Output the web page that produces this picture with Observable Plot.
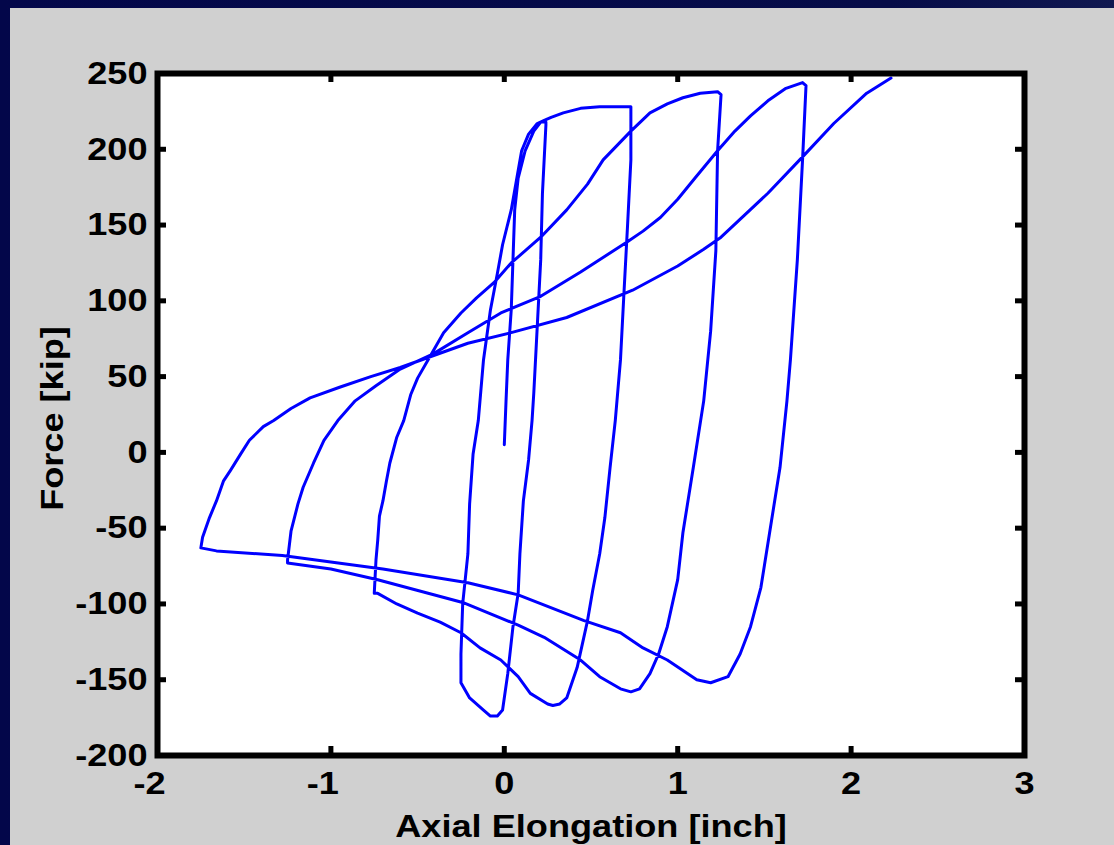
<!DOCTYPE html>
<html>
<head>
<meta charset="utf-8">
<script src="https://cdn.jsdelivr.net/npm/d3@7"></script>
<script src="https://cdn.jsdelivr.net/npm/@observablehq/plot@0.6"></script>
<style>
  html, body { margin: 0; padding: 0; }
  body {
    width: 1114px; height: 845px; overflow: hidden; position: relative;
    background: linear-gradient(90deg, #03074a 0%, #060c48 80%, #101850 100%);
  }
  #panel { position: absolute; left: 10px; top: 8px; width: 1104px; height: 837px; background: #d0d0d0; }
</style>
</head>
<body>
<div id="panel"></div>
<script>
// Cyclic axial test of a brace: each branch is [elongation (inch), force (kip)]
const initialLoading = [[0.00,5],[0.01,34],[0.02,61],[0.04,94],[0.05,127],[0.06,160],[0.08,181],[0.12,199],[0.17,212],[0.21,218],[0.24,218]];
const unloading1 = [[0.24,216],[0.22,171],[0.21,127],[0.19,83],[0.17,39],[0.16,21],[0.14,-5],[0.11,-32],[0.09,-67],[0.08,-93],[0.05,-115],[0.02,-146],[-0.01,-170],[-0.04,-174],[-0.08,-174],[-0.12,-170],[-0.20,-162],[-0.25,-152]];
const reloading2 = [[-0.25,-133],[-0.24,-100],[-0.21,-67],[-0.20,-34],[-0.18,-1],[-0.15,21],[-0.12,61],[-0.08,94],[-0.04,118],[-0.01,137],[0.04,160],[0.08,186],[0.10,199],[0.14,210],[0.19,217],[0.23,219],[0.27,221],[0.34,224],[0.44,227],[0.55,228],[0.73,228]];
const unloading2 = [[0.73,226],[0.73,193],[0.71,148],[0.69,105],[0.67,61],[0.64,21],[0.61,-10],[0.58,-43],[0.55,-67],[0.51,-91],[0.48,-111],[0.42,-142],[0.36,-162],[0.32,-166],[0.28,-167],[0.25,-166],[0.15,-159],[0.08,-148],[-0.02,-137],[-0.14,-129],[-0.25,-119],[-0.37,-112],[-0.50,-106],[-0.62,-100],[-0.73,-93],[-0.75,-93]];
const reloading3 = [[-0.74,-71],[-0.73,-58],[-0.72,-42],[-0.70,-32],[-0.68,-19],[-0.66,-7],[-0.62,10],[-0.58,21],[-0.54,38],[-0.50,49],[-0.44,61],[-0.35,79],[-0.25,92],[-0.16,102],[-0.06,112],[0.04,125],[0.21,142],[0.36,160],[0.48,177],[0.57,193],[0.73,212],[0.84,224],[0.94,230],[1.03,234],[1.13,237],[1.23,238]];
const unloading3 = [[1.25,236],[1.23,199],[1.22,133],[1.19,80],[1.15,34],[1.09,-10],[1.03,-53],[1.00,-84],[0.94,-115],[0.89,-133],[0.84,-146],[0.78,-156],[0.73,-158],[0.67,-156],[0.55,-148],[0.44,-137],[0.23,-122],[0.08,-114],[-0.24,-99],[-0.73,-84],[-1.00,-77],[-1.25,-73]];
const reloading4 = [[-1.25,-71],[-1.23,-52],[-1.19,-34],[-1.16,-23],[-1.10,-7],[-1.04,8],[-0.96,21],[-0.86,34],[-0.74,44],[-0.60,55],[-0.41,65],[-0.21,79],[-0.02,92],[0.21,103],[0.44,119],[0.71,139],[0.80,146],[0.90,155],[1.00,167],[1.10,181],[1.23,199],[1.33,212],[1.42,222],[1.52,232],[1.62,240],[1.72,244]];
const unloading4 = [[1.74,242],[1.72,193],[1.69,127],[1.65,61],[1.63,34],[1.59,-10],[1.53,-53],[1.48,-89],[1.42,-115],[1.36,-133],[1.29,-148],[1.19,-152],[1.11,-150],[0.94,-137],[0.80,-129],[0.67,-119],[0.46,-111],[0.08,-94],[-0.21,-86],[-0.70,-77],[-1.28,-68],[-1.66,-65],[-1.75,-63]];
const reloading5 = [[-1.74,-56],[-1.70,-43],[-1.66,-32],[-1.62,-19],[-1.58,-12],[-1.52,-1],[-1.47,8],[-1.39,17],[-1.33,21],[-1.23,29],[-1.12,36],[-0.95,43],[-0.77,50],[-0.60,56],[-0.21,72],[0.04,79],[0.36,89],[0.74,107],[1.00,123],[1.15,134],[1.25,142],[1.52,171],[1.72,195],[1.90,217],[2.09,237],[2.23,247]];

const xTicks = [-2, -1, 0, 1, 2, 3];
const yTicks = [-200, -150, -100, -50, 0, 50, 100, 150, 200, 250];
const xLabel = "Axial Elongation [inch]";
const yLabel = "Force [kip]";

// Full load history in test order
const history = [initialLoading, unloading1, reloading2, unloading2, reloading3,
                 unloading3, reloading4, unloading4, reloading5]
  .flat()
  .map(([elongation, force]) => ({elongation, force}));

const W = 1104, H = 837;
const mL = 147, mR = 90, mT = 65, mB = 90;
const innerW = W - mL - mR, innerH = H - mT - mB;
const tickLen = 9; // part of it is hidden under the frame stroke
const font = {fontSize: 32, fontWeight: "bold"};

const chart = Plot.plot({
  width: W, height: H,
  marginLeft: mL, marginRight: mR, marginTop: mT, marginBottom: mB,
  style: {
    background: "#d0d0d0", color: "black",
    fontFamily: "'Liberation Sans', Arial, Helvetica, sans-serif",
    fontWeight: "bold", fontSize: "32px"
  },
  x: {domain: [-2, 3]},
  y: {domain: [-200, 250]},
  marks: [
    Plot.frame({fill: "white"}),
    Plot.line(history, {x: "elongation", y: "force", stroke: "#0000ff", strokeWidth: 3, strokeLinejoin: "round"}),
    // inward ticks on all four sides
    Plot.tickX(xTicks, {x: d => d, insetTop: innerH - tickLen, stroke: "black", strokeWidth: 5}),
    Plot.tickX(xTicks, {x: d => d, insetBottom: innerH - tickLen, stroke: "black", strokeWidth: 5}),
    Plot.tickY(yTicks, {y: d => d, insetRight: innerW - tickLen, stroke: "black", strokeWidth: 5}),
    Plot.tickY(yTicks, {y: d => d, insetLeft: innerW - tickLen, stroke: "black", strokeWidth: 5}),
    Plot.frame({stroke: "black", strokeWidth: 6}),
    Plot.axisY(yTicks, {tickSize: 0, tickPadding: 10, label: null, tickFormat: d => String(d), ...font}),
    Plot.axisX(xTicks.filter(d => d >= 0), {tickSize: 0, tickPadding: 16, label: null, tickFormat: d => String(d), ...font}),
    Plot.axisX(xTicks.filter(d => d < 0), {tickSize: 0, tickPadding: 16, dx: -8, label: null, tickFormat: d => String(d), ...font}),
    Plot.text([xLabel], {frameAnchor: "bottom", lineAnchor: "bottom", dy: 81, ...font}),
    Plot.text([yLabel], {frameAnchor: "left", textAnchor: "middle", rotate: -90, lineAnchor: "bottom", dx: -95, dy: 4, ...font})
  ]
});

// widen the lettering slightly, as in the original figure font
chart.querySelectorAll("text").forEach(t => {
  const tr = t.getAttribute("transform");
  if (tr) {
    t.setAttribute("transform", tr + " scale(1.13,1)");
  } else {
    const x = +t.getAttribute("x") || 0, y = +t.getAttribute("y") || 0;
    t.setAttribute("transform", `translate(${x},${y}) scale(1.13,1) translate(${-x},${-y})`);
  }
});

document.getElementById("panel").appendChild(chart);
</script>
</body>
</html>
